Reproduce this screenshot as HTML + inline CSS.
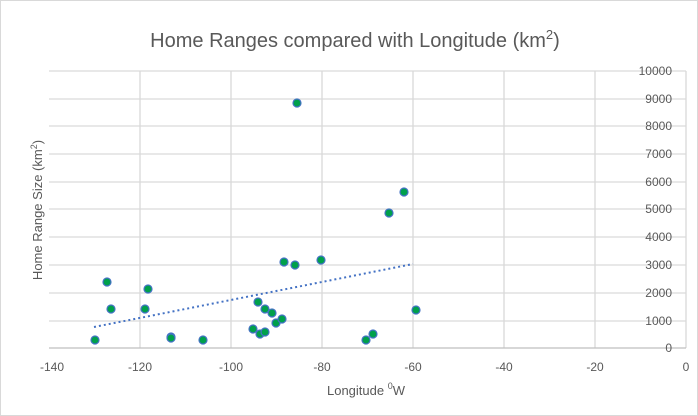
<!DOCTYPE html><html><head><style>body{margin:0;background:#fff}svg{display:block;font-family:"Liberation Sans",sans-serif}</style></head><body>
<svg width="698" height="416" viewBox="0 0 698 416">
<rect x="0.5" y="0.5" width="697" height="415" fill="#fff" stroke="#d9d9d9"/>
<text x="355" y="47" text-anchor="middle" font-size="20" fill="#595959">Home Ranges compared with Longitude (km<tspan font-size="13" dy="-8">2</tspan><tspan dy="8">)</tspan></text>
<g stroke="#d9d9d9" stroke-width="1.3">
<line x1="49" y1="71" x2="686" y2="71"/><line x1="49" y1="99" x2="686" y2="99"/><line x1="49" y1="126" x2="686" y2="126"/><line x1="49" y1="154" x2="686" y2="154"/><line x1="49" y1="182" x2="686" y2="182"/><line x1="49" y1="209" x2="686" y2="209"/><line x1="49" y1="237" x2="686" y2="237"/><line x1="49" y1="265" x2="686" y2="265"/><line x1="49" y1="293" x2="686" y2="293"/><line x1="49" y1="321" x2="686" y2="321"/>
<line x1="140" y1="71" x2="140" y2="348"/><line x1="231" y1="71" x2="231" y2="348"/><line x1="322" y1="71" x2="322" y2="348"/><line x1="413" y1="71" x2="413" y2="348"/><line x1="504" y1="71" x2="504" y2="348"/><line x1="595" y1="71" x2="595" y2="348"/><line x1="686" y1="71" x2="686" y2="348"/>
<line x1="49" y1="348" x2="686" y2="348" stroke="#bfbfbf"/>
</g>
<g font-size="12" fill="#595959" text-anchor="end" stroke="#fff" stroke-width="0">
<text x="672" y="75">10000</text><text x="672" y="103">9000</text><text x="672" y="130">8000</text><text x="672" y="158">7000</text><text x="672" y="186">6000</text><text x="672" y="213">5000</text><text x="672" y="241">4000</text><text x="672" y="269">3000</text><text x="672" y="297">2000</text><text x="672" y="325">1000</text><text x="672" y="352">0</text>
</g>
<g font-size="12" fill="#595959" text-anchor="middle">
<text x="52" y="371">-140</text><text x="140" y="371">-120</text><text x="231" y="371">-100</text><text x="322" y="371">-80</text><text x="413" y="371">-60</text><text x="504" y="371">-40</text><text x="595" y="371">-20</text><text x="686" y="371">0</text>
<text x="366" y="395" font-size="13">Longitude <tspan font-size="9" dy="-6">0</tspan><tspan dy="6">W</tspan></text>
</g>
<text transform="translate(42,210) rotate(-90)" text-anchor="middle" font-size="13" fill="#595959">Home Range Size (km<tspan font-size="9" dy="-5">2</tspan><tspan dy="5">)</tspan></text>
<line x1="94" y1="327" x2="413" y2="264" stroke="#4472c4" stroke-width="2" stroke-dasharray="2,3"/>
<g fill="#00a04b" stroke="#4472c4" stroke-width="1.2">
<circle cx="95" cy="340" r="4"/><circle cx="107" cy="282" r="4"/><circle cx="111" cy="309" r="4"/><circle cx="148" cy="289" r="4"/><circle cx="145" cy="309" r="4"/><circle cx="171" cy="337" r="4"/><circle cx="171" cy="338" r="4"/><circle cx="203" cy="340" r="4"/><circle cx="253" cy="329" r="4"/><circle cx="258" cy="302" r="4"/><circle cx="260" cy="334" r="4"/><circle cx="265" cy="332" r="4"/><circle cx="265" cy="309" r="4"/><circle cx="272" cy="313" r="4"/><circle cx="276" cy="323" r="4"/><circle cx="282" cy="319" r="4"/><circle cx="284" cy="262" r="4"/><circle cx="295" cy="265" r="4"/><circle cx="321" cy="260" r="4"/><circle cx="297" cy="103" r="4"/><circle cx="389" cy="213" r="4"/><circle cx="404" cy="192" r="4"/><circle cx="416" cy="310" r="4"/><circle cx="366" cy="340" r="4"/><circle cx="373" cy="334" r="4"/>
</g>
</svg></body></html>
